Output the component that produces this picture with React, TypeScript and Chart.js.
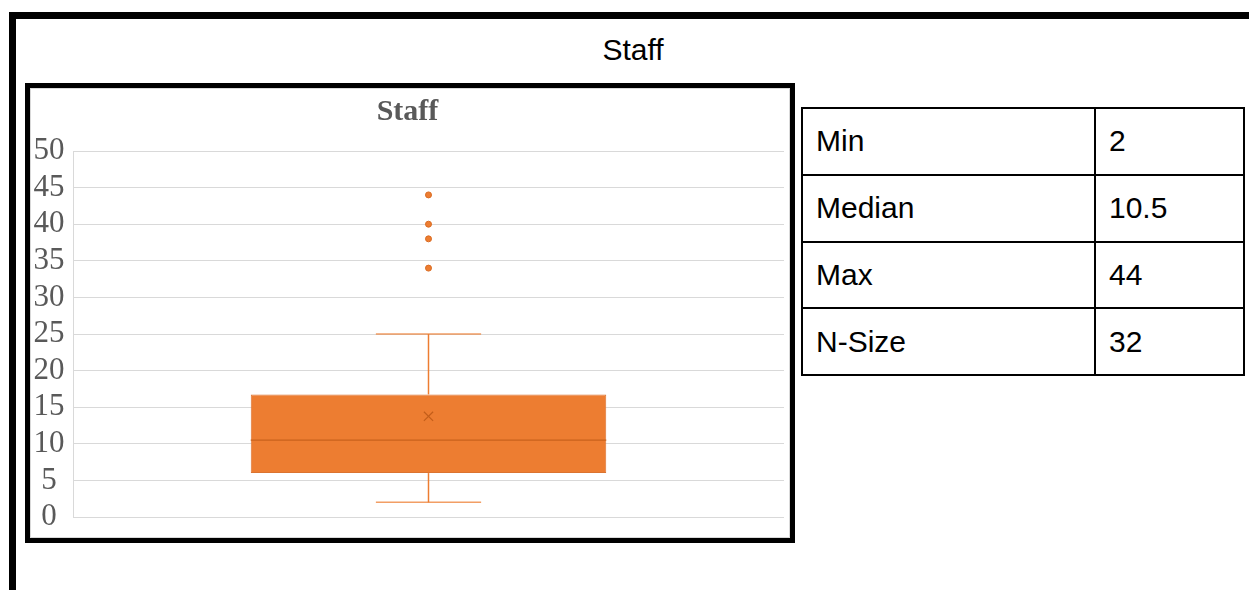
import { useEffect, useRef } from 'react';
import { Chart, registerables } from 'chart.js';

Chart.register(...registerables);

// Box-plot summary for the single category
const categories = ['Staff'];
const lowerWhisker = [2];
const q1Values = [6];
const medianValues = [10.5];
const q3Values = [16.75];
const upperWhisker = [25];
const meanValues = [13.75];
const outlierValues = [44, 40, 38, 34];

// Summary table
const statLabels = ['Min', 'Median', 'Max', 'N-Size'];
const statValues = ['2', '10.5', '44', '32'];

// Value axis
const yMin = 0;
const yMax = 50;
const yStep = 5;

const ORANGE = '#ED7D31';
const DARK_ORANGE = '#C8621C';
const SERIF = "'Liberation Serif', 'Times New Roman', serif";
const SANS = "'Liberation Sans', Arial, sans-serif";
const CAP_HALF = 0.148; // whisker cap half width on the hidden x2 axis
const BOX_HALF = 0.5; // box half width on the hidden x2 axis (box spans half the plot)

function seg(x0: number, y0: number, x1: number, y1: number) {
  return [{ x: x0, y: y0 }, { x: x1, y: y1 }];
}

export default function App() {
  const canvasRef = useRef<HTMLCanvasElement>(null);

  useEffect(() => {
    const i = 0;
    const lineBase = {
      type: 'line' as const,
      xAxisID: 'x2',
      pointRadius: 0,
      fill: false,
      tension: 0,
    };
    const chart = new Chart(canvasRef.current!, {
      type: 'bar',
      data: {
        labels: categories,
        datasets: [
          {
            ...lineBase,
            label: 'Median',
            data: seg(-BOX_HALF, medianValues[i], BOX_HALF, medianValues[i]),
            borderColor: DARK_ORANGE,
            borderWidth: 1.2,
            order: 0,
          },
          {
            ...lineBase,
            label: 'Mean',
            data: [{ x: 0, y: meanValues[i] }],
            showLine: false,
            pointStyle: 'crossRot',
            pointRadius: 6.5,
            pointBorderColor: '#C35E1A',
            pointBorderWidth: 1.2,
            order: 0,
          },
          {
            ...lineBase,
            label: 'Outliers',
            data: outlierValues.map((v) => ({ x: 0, y: v })),
            showLine: false,
            pointRadius: 3,
            pointBackgroundColor: ORANGE,
            pointBorderColor: '#D96B22',
            pointBorderWidth: 1,
            order: 0,
          },
          {
            type: 'bar',
            label: 'IQR',
            xAxisID: 'x',
            data: [[q1Values[i], q3Values[i]]] as any,
            backgroundColor: ORANGE,
            borderColor: '#DB7330',
            borderWidth: 1,
            borderSkipped: false,
            grouped: false,
            categoryPercentage: 0.5,
            barPercentage: 1,
            order: 1,
          },
          {
            ...lineBase,
            label: 'Lower whisker',
            data: seg(0, lowerWhisker[i], 0, q1Values[i]),
            borderColor: ORANGE,
            borderWidth: 1.5,
            order: 2,
          },
          {
            ...lineBase,
            label: 'Upper whisker',
            data: seg(0, q3Values[i], 0, upperWhisker[i]),
            borderColor: ORANGE,
            borderWidth: 1.5,
            order: 2,
          },
          {
            ...lineBase,
            label: 'Lower cap',
            data: seg(-CAP_HALF, lowerWhisker[i], CAP_HALF, lowerWhisker[i]),
            borderColor: 'rgba(237,125,49,0.75)',
            borderWidth: 1.5,
            order: 2,
          },
          {
            ...lineBase,
            label: 'Upper cap',
            data: seg(-CAP_HALF, upperWhisker[i], CAP_HALF, upperWhisker[i]),
            borderColor: 'rgba(237,125,49,0.75)',
            borderWidth: 1.5,
            order: 2,
          },
        ] as any,
      },
      options: {
        responsive: false,
        animation: false,
        events: [],
        layout: {
          autoPadding: false,
          padding: { left: 0, right: 5, top: 0, bottom: 20 },
        },
        plugins: {
          legend: { display: false },
          tooltip: { enabled: false },
          title: {
            display: true,
            text: categories[0],
            color: '#595959',
            font: { family: SERIF, size: 30, weight: 'bold' },
            padding: { top: 5, bottom: 21 },
          },
        },
        scales: {
          x: { type: 'category', display: false, offset: true },
          x2: { type: 'linear', display: false, offset: false, min: -1, max: 1 },
          y: {
            min: yMin,
            max: yMax,
            ticks: {
              stepSize: yStep,
              autoSkip: false,
              color: '#595959',
              font: { family: SERIF, size: 31, lineHeight: 1 },
              padding: 8.5,
              crossAlign: 'center',
            },
            grid: { color: '#d9d9d9', lineWidth: 1, drawTicks: false },
            border: { color: '#d9d9d9', width: 1 },
            afterFit: (scale: any) => {
              scale.width = 42;
              scale.paddingTop = 0;
              scale.paddingBottom = 0;
            },
          },
        },
      } as any,
    });
    return () => chart.destroy();
  }, []);

  return (
    <div
      style={{
        position: 'absolute',
        left: 0,
        top: 0,
        width: 1249,
        height: 590,
        overflow: 'hidden',
        background: '#fff',
      }}
    >
      {/* page frame */}
      <div
        style={{
          position: 'absolute',
          left: 9,
          top: 12,
          width: 1240,
          height: 578,
          boxSizing: 'border-box',
          borderTop: '7px solid #000',
          borderLeft: '7px solid #000',
        }}
      />
      {/* heading */}
      <div
        style={{
          position: 'absolute',
          left: 533,
          top: 35,
          width: 200,
          textAlign: 'center',
          fontFamily: SANS,
          fontSize: 30,
          lineHeight: '30px',
          color: '#000',
        }}
      >
        Staff
      </div>
      {/* chart frame */}
      <div
        style={{
          position: 'absolute',
          left: 25,
          top: 83,
          width: 770,
          height: 460,
          boxSizing: 'border-box',
          border: '5px solid #000',
        }}
      >
        <div
          style={{
            width: 760,
            height: 450,
            boxSizing: 'border-box',
            border: '1px solid #d9d9d9',
          }}
        >
          <canvas
            ref={canvasRef}
            width={758}
            height={448}
            style={{ display: 'block', width: 758, height: 448 }}
          />
        </div>
      </div>
      {/* summary table */}
      <table
        style={{
          position: 'absolute',
          left: 801,
          top: 107,
          width: 444,
          height: 267,
          borderCollapse: 'collapse',
          fontFamily: SANS,
          fontSize: 30,
          color: '#000',
        }}
      >
        <tbody>
          {statLabels.map((label, r) => (
            <tr key={label} style={{ height: 66.75 }}>
              <td
                style={{
                  width: 278,
                  border: '2px solid #000',
                  padding: '0 0 0 13px',
                  verticalAlign: 'middle',
                }}
              >
                {label}
              </td>
              <td
                style={{
                  border: '2px solid #000',
                  padding: '0 0 0 13px',
                  verticalAlign: 'middle',
                }}
              >
                {statValues[r]}
              </td>
            </tr>
          ))}
        </tbody>
      </table>
    </div>
  );
}
